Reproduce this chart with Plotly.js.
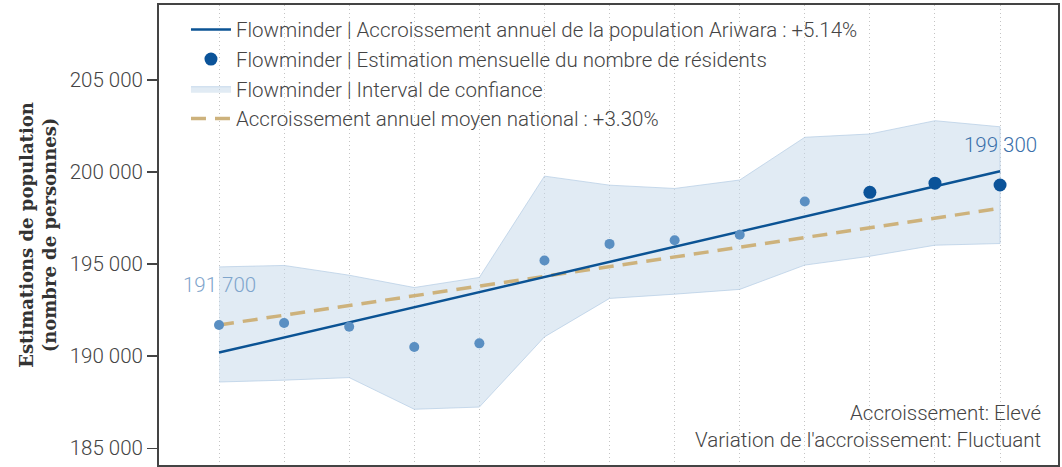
<!DOCTYPE html>
<html>
<head>
<meta charset="utf-8">
<script src="https://cdn.plot.ly/plotly-3.0.1.min.js"></script>
<style>html,body{margin:0;padding:0;background:#fff;}#chart{width:1062px;height:467px;}</style>
</head>
<body>
<div id="chart"></div>
<script>
// Month index (x-axis labels are cropped out in the reference)
const months = [0, 1, 2, 3, 4, 5, 6, 7, 8, 9, 10, 11, 12];
// Monthly resident estimates
const estimates = [191700, 191800, 191600, 190500, 190700, 195200, 196100, 196300, 196600, 198400, 198900, 199400, 199300];
// Which estimates are highlighted (darker, larger)
const highlighted = [false, false, false, false, false, false, false, false, false, false, true, true, true];
// Confidence interval
const ciUpper = [194850, 194930, 194400, 193730, 194280, 199780, 199290, 199110, 199570, 201890, 202070, 202790, 202460];
const ciLower = [188600, 188700, 188840, 187120, 187240, 191050, 193140, 193370, 193630, 194950, 195430, 196030, 196120];
// Trend lines (endpoints)
const trendX = [0, 12];
const trendLocal = [190200, 200050];
const trendNational = [191700, 198030];
// Labels
const legendNames = [
  "Flowminder | Accroissement annuel de la population Ariwara : +5.14%",
  "Flowminder | Estimation mensuelle du nombre de résidents",
  "Flowminder | Interval de confiance",
  "Accroissement annuel moyen national : +3.30%"
];
const firstLabel = "191 700";
const lastLabel = "199 300";
const noteText = "Accroissement: Elevé<br>Variation de l'accroissement: Fluctuant";
const yTitle = "Estimations de population<br>(nombre de personnes)";

const bandX = months.concat(months.slice().reverse());
const bandY = ciUpper.concat(ciLower.slice().reverse());

const traces = [
  {
    x: bandX, y: bandY, type: 'scatter', mode: 'lines', fill: 'toself',
    fillcolor: 'rgba(196,215,234,0.5)', line: {color: 'rgba(180,204,228,0.7)', width: 1},
    name: legendNames[2], legendrank: 3, hoverinfo: 'skip'
  },
  {
    x: trendX, y: trendNational, type: 'scatter', mode: 'lines',
    line: {color: '#cdb27c', width: 3.5, dash: '15px,9px'},
    name: legendNames[3], legendrank: 4
  },
  {
    x: trendX, y: trendLocal, type: 'scatter', mode: 'lines',
    line: {color: '#0b5394', width: 2.5},
    name: legendNames[0], legendrank: 1
  },
  {
    x: months.filter((m, i) => !highlighted[i]),
    y: estimates.filter((v, i) => !highlighted[i]),
    type: 'scatter', mode: 'markers',
    marker: {color: '#5a8fc2', size: 10},
    name: legendNames[1], showlegend: false
  },
  {
    x: months.filter((m, i) => highlighted[i]),
    y: estimates.filter((v, i) => highlighted[i]),
    type: 'scatter', mode: 'markers',
    marker: {color: '#0b5399', size: 13},
    name: legendNames[1], legendrank: 2
  }
];

const font = {family: 'Roboto, sans-serif', color: '#444', size: 20, weight: 300};

const layout = {
  width: 1062, height: 467,
  margin: {l: 159, r: 4, t: 5, b: 2, pad: 0},
  paper_bgcolor: '#fff', plot_bgcolor: '#fff',
  separators: '. ',
  font: font,
  showlegend: true,
  legend: {
    x: 0.03, y: 0.99, xanchor: 'left', yanchor: 'top',
    bgcolor: 'rgba(255,255,255,0)', borderwidth: 0,
    font: {family: 'Roboto, sans-serif', color: '#444', size: 20.5, weight: 300},
    traceorder: 'normal', itemwidth: 40
  },
  xaxis: {
    range: [-0.922, 12.89], showticklabels: false,
    showgrid: true, gridcolor: '#c4c4c4', griddash: '1px,3px', gridwidth: 1,
    tickmode: 'array', tickvals: months,
    zeroline: false, showline: true, mirror: true, linecolor: '#444', linewidth: 2,
    ticks: ''
  },
  yaxis: {
    range: [184093, 209074],
    tickmode: 'array', tickvals: [185000, 190000, 195000, 200000, 205000],
    tickformat: ',d',
    showgrid: false, zeroline: false,
    showline: true, mirror: true, linecolor: '#444', linewidth: 2,
    ticks: 'outside', ticklen: 10, tickcolor: '#444', tickwidth: 1.5,
    tickfont: {family: 'Roboto, sans-serif', color: '#444', size: 20.5, weight: 300},
    title: {
      text: yTitle, standoff: 8,
      font: {family: 'DejaVu Serif, serif', color: '#333', size: 18, weight: 'bold'}
    }
  },
  annotations: [
    {x: months[0], y: estimates[0], xref: 'x', yref: 'y', text: firstLabel, showarrow: false,
     yshift: 40, font: {family: 'Roboto, sans-serif', size: 20.5, color: '#7fa5cc', weight: 300}},
    {x: months[12], y: estimates[12], xref: 'x', yref: 'y', text: lastLabel, showarrow: false,
     yshift: 40, font: {family: 'Roboto, sans-serif', size: 20.5, color: '#3a70aa', weight: 300}},
    {x: 0.983, y: 0.025, xref: 'paper', yref: 'paper', xanchor: 'right', yanchor: 'bottom',
     align: 'right', text: noteText, showarrow: false,
     font: {family: 'Roboto, sans-serif', size: 20.5, color: '#444', weight: 300}}
  ]
};

Plotly.newPlot('chart', traces, layout, {staticPlot: true, displayModeBar: false});
</script>
</body>
</html>
